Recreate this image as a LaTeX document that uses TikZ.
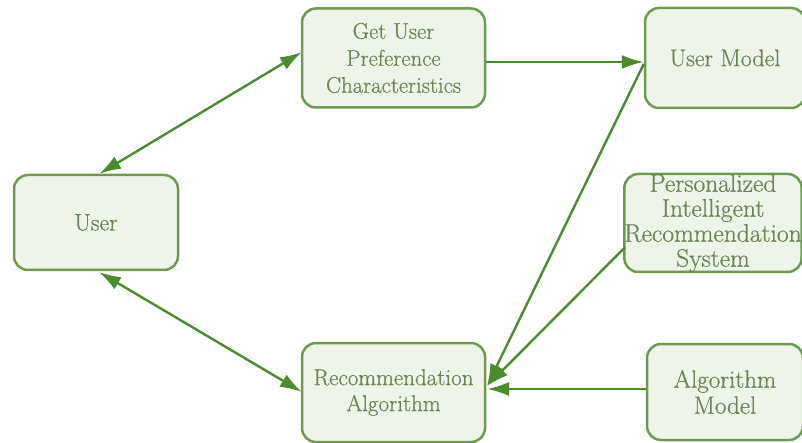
\documentclass[tikz,border=0pt]{standalone}
\usepackage{fontspec}
\setmainfont{Latin Modern Roman}[FakeBold=0.6]
\usetikzlibrary{arrows.meta}
\definecolor{boxline}{HTML}{6E9A50}
\definecolor{boxfill}{HTML}{EFF4EA}
\definecolor{txt}{HTML}{6A8454}
\definecolor{arr}{HTML}{4C8C2E}
\newcommand{\fs}[2]{\fontsize{#1}{#2}\selectfont}
\begin{document}
\begin{tikzpicture}[x=1pt,y=-1pt,
  box/.style={draw=boxline,fill=boxfill,line width=2.5pt,rounded corners=14pt,
    text=txt,align=center,inner sep=0pt},
  link/.style={draw=arr,line width=2.4pt},
  tip/.style={-{Latex[length=22pt,width=14pt]}},
  dtip/.style={{Latex[length=22pt,width=14pt]}-{Latex[length=22pt,width=14pt]}}]
\useasboundingbox (0,0) rectangle (802,443);
\node[box,font=\fs{24}{26},minimum width=164pt,minimum height=95pt] (user) at (96,222.5) {User};
\node[box,font=\fs{22.7}{27},minimum width=183pt,minimum height=99pt] (get) at (393.5,58) {Get User\\Preference\\Characteristics};
\node[box,font=\fs{24}{26},minimum width=160pt,minimum height=100pt] (um) at (725,58) {User Model};
\node[box,font=\fs{25.5}{25},minimum width=176pt,minimum height=98pt] (pirs) at (713,223) {Personalized\\Intelligent\\Recommendation\\System};
\node[box,font=\fs{23}{26},minimum width=183pt,minimum height=99pt] (ra) at (393.5,392.5) {Recommendation\\Algorithm};
\node[box,font=\fs{25}{26},minimum width=156pt,minimum height=96pt] (am) at (725,392) {Algorithm\\Model};
\coordinate (ue) at (99,174);
\coordinate (us) at (99,272);
\coordinate (gw) at (302,52);
\coordinate (rw) at (302,392);
\coordinate (rtip) at (487,386);
\draw[link,dtip] (ue) -- (gw);
\draw[link,dtip] (us) -- (rw);
\draw[link,tip] (get.east |- 0,62) -- (um.west |- 0,62);
\draw[link,tip] (um.west |- 0,64) -- (rtip);
\draw[link,tip] (pirs.south west) ++(2,-26) -- (rtip);
\draw[link,tip] (am.west |- 0,389) -- (487,389);
\end{tikzpicture}
\end{document}
